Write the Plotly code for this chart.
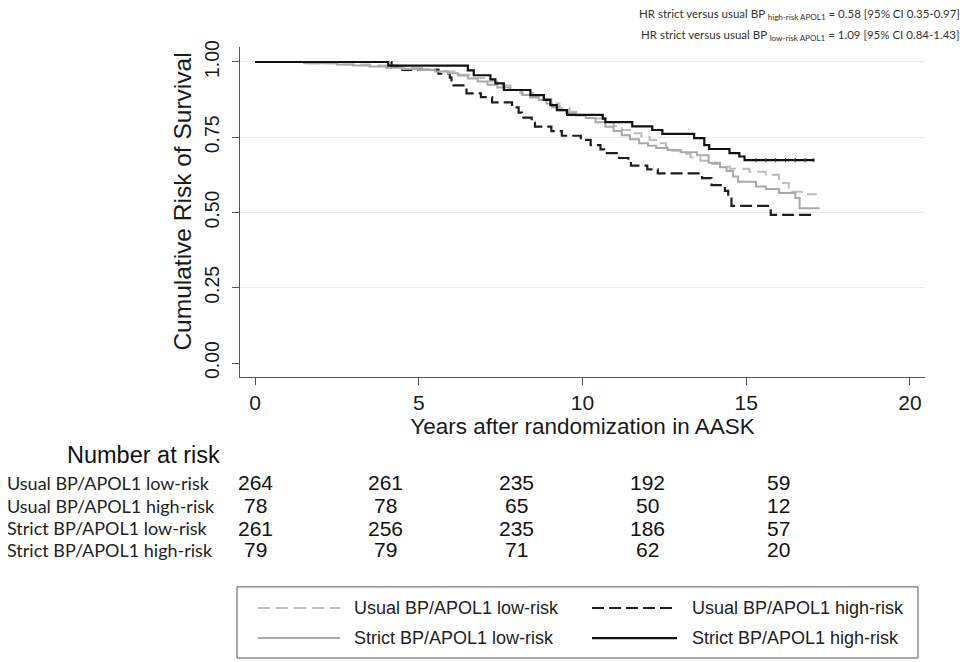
import plotly.graph_objects as go

# ---------------- data ----------------
# Usual BP / APOL1 low-risk (grey dashed)
t_usual_low = [0, 1.5, 2.5, 3.5, 4.2, 4.8, 5.3, 5.8, 6.2, 6.6, 7.0, 7.4, 7.8, 8.1, 8.5, 8.8,
               9.05, 9.3, 9.6, 9.9, 10.3, 10.7, 10.95, 11.2, 11.5, 11.8, 12.05, 12.3, 12.55,
               12.74, 13.0, 13.3, 13.6, 13.9, 14.2, 14.5, 15.1, 15.6, 16.0, 16.3, 16.7, 17.15]
s_usual_low = [1.0, 0.996, 0.992, 0.988, 0.985, 0.980, 0.975, 0.968, 0.958, 0.947, 0.935, 0.922,
               0.907, 0.897, 0.888, 0.878, 0.862, 0.847, 0.835, 0.824, 0.812, 0.800, 0.787,
               0.774, 0.763, 0.752, 0.741, 0.730, 0.718, 0.705, 0.695, 0.683, 0.672, 0.661,
               0.652, 0.645, 0.635, 0.625, 0.598, 0.569, 0.561, 0.561]

# Usual BP / APOL1 high-risk (black dashed)
t_usual_high = [0, 4.17, 4.50, 5.60, 5.95, 6.00, 6.46, 6.90, 7.24, 7.85, 8.05, 8.15, 8.45, 8.55,
                9.05, 9.37, 9.95, 10.25, 10.55, 10.66, 11.12, 11.40, 11.48, 11.98, 12.30,
                13.65, 13.94, 14.35, 14.45, 14.55, 15.75, 17.09]
s_usual_high = [1.0, 0.987, 0.974, 0.961, 0.948, 0.922, 0.896, 0.883, 0.866, 0.849, 0.832, 0.815,
                0.798, 0.785, 0.770, 0.755, 0.741, 0.724, 0.710, 0.697, 0.681, 0.669, 0.656,
                0.643, 0.630, 0.614, 0.591, 0.572, 0.552, 0.522, 0.492, 0.492]

# Strict BP / APOL1 low-risk (grey solid)
t_strict_low = [0, 1.5, 2.5, 3.0, 3.5, 4.0, 4.5, 5.0, 5.5, 5.9, 6.2, 6.5, 6.8, 7.1, 7.4, 7.8,
                8.15, 8.4, 8.67, 8.9, 9.07, 9.3, 9.5, 9.8, 10.1, 10.4, 10.7, 10.95, 11.2, 11.45,
                11.73, 12.0, 12.25, 12.6, 13.0, 13.5, 13.85, 14.2, 14.4, 14.6, 14.75, 15.3,
                15.6, 16.0, 16.5, 16.63, 17.24]
s_strict_low = [1.0, 0.996, 0.992, 0.988, 0.985, 0.981, 0.977, 0.973, 0.968, 0.963, 0.955, 0.945,
                0.935, 0.924, 0.915, 0.907, 0.890, 0.882, 0.874, 0.862, 0.850, 0.840, 0.830,
                0.822, 0.814, 0.800, 0.785, 0.771, 0.757, 0.743, 0.730, 0.722, 0.714, 0.708,
                0.700, 0.690, 0.665, 0.650, 0.638, 0.620, 0.602, 0.586, 0.578, 0.565, 0.548,
                0.514, 0.514]

# Strict BP / APOL1 high-risk (black solid)
t_strict_high = [0, 4.07, 6.50, 6.68, 7.19, 7.34, 7.60, 8.41, 8.82, 9.02, 9.22, 9.53, 10.62,
                 10.70, 11.52, 12.13, 12.44, 13.41, 13.72, 13.87, 14.49, 14.79, 14.95, 17.09]
s_strict_high = [1.0, 0.988, 0.972, 0.956, 0.942, 0.929, 0.907, 0.890, 0.874, 0.857, 0.840,
                 0.824, 0.812, 0.800, 0.786, 0.774, 0.761, 0.747, 0.724, 0.711, 0.697, 0.686,
                 0.674, 0.674]
# censoring marks on the last black segment
t_censor_strict_high = [15.3, 15.6, 15.9, 16.2, 16.5, 16.8, 17.05]

# Number at risk table
risk_times = [0, 4, 8, 12, 16]
risk_labels = ["Usual BP/APOL1 low-risk", "Usual BP/APOL1 high-risk",
               "Strict BP/APOL1 low-risk", "Strict BP/APOL1 high-risk"]
risk_usual_low = [264, 261, 235, 192, 59]
risk_usual_high = [78, 78, 65, 50, 12]
risk_strict_low = [261, 256, 235, 186, 57]
risk_strict_high = [79, 79, 71, 62, 20]

x_ticks = [0, 5, 10, 15, 20]
y_ticks = [0, 0.25, 0.5, 0.75, 1.0]
y_tick_text = ["0.00", "0.25", "0.50", "0.75", "1.00"]

# ---------------- styles ----------------
FONT = "Liberation Sans, Arial, sans-serif"
FONT_C = "Lato, Open Sans, sans-serif"
styles = {
    "usual_low": dict(color="#bdbdbd", width=2, dash="12px,6px"),
    "usual_high": dict(color="#1e1e1e", width=2.2, dash="12px,5px"),
    "strict_low": dict(color="#a9a9a9", width=2),
    "strict_high": dict(color="#111111", width=2.2),
}
series = [
    ("Usual BP/APOL1 low-risk", t_usual_low, s_usual_low, "usual_low"),
    ("Usual BP/APOL1 high-risk", t_usual_high, s_usual_high, "usual_high"),
    ("Strict BP/APOL1 low-risk", t_strict_low, s_strict_low, "strict_low"),
    ("Strict BP/APOL1 high-risk", t_strict_high, s_strict_high, "strict_high"),
]

fig = go.Figure()
for name, t, s, key in series:
    fig.add_trace(go.Scatter(x=t, y=s, mode="lines", name=name, line=dict(shape="hv", **styles[key]),
                             showlegend=False))

fig.add_trace(go.Scatter(x=t_censor_strict_high, y=[s_strict_high[-1]] * len(t_censor_strict_high),
                         mode="markers", showlegend=False, hoverinfo="skip",
                         marker=dict(symbol="line-ns", size=3, line=dict(color="#333", width=1))))

# overlay axis only for gridlines (no grid at 0)
fig.add_trace(go.Scatter(x=[None], y=[None], yaxis="y2", showlegend=False, hoverinfo="skip"))

# the page body has an 8px margin, so the figure is 8px smaller on each side
fig.update_layout(
    width=963, height=654, autosize=False,
    margin=dict(l=232, r=46, t=39, b=285),
    paper_bgcolor="white", plot_bgcolor="white",
    font=dict(family=FONT, color="#1a1a1a"),
    xaxis=dict(range=[-0.458, 20.46], tickvals=x_ticks, ticktext=[str(v) for v in x_ticks],
               showgrid=False, zeroline=False, showline=True, linecolor="#555", linewidth=1,
               ticks="outside", ticklen=7, tickcolor="#555", tickfont=dict(size=21, family=FONT),
               title=dict(text="Years after randomization in AASK", font=dict(size=22.5, family=FONT),
                          standoff=3)),
    yaxis=dict(range=[-0.0465, 1.0498], tickvals=y_ticks, ticktext=y_tick_text, tickangle=-90,
               showgrid=False, zeroline=False, showline=True, linecolor="#555", linewidth=1,
               ticks="outside", ticklen=7, tickcolor="#555", tickfont=dict(size=19.5, family=FONT),
               ticklabelstandoff=5),
    yaxis2=dict(range=[-0.0465, 1.0498], overlaying="y", tickvals=y_ticks[1:], showgrid=True,
                gridcolor="#ececec", gridwidth=1, showticklabels=False, ticks="", zeroline=False,
                showline=False),
)

annotations = []
# y-axis title (placed as in the original, slightly above the plot centre)
annotations.append(dict(xref="paper", yref="paper", x=-0.084, y=0.533, xanchor="center", yanchor="middle",
                        textangle=-90, showarrow=False, text="Cumulative Risk of Survival",
                        font=dict(family=FONT, size=24.5, color="#1a1a1a")))
# HR text
annotations.append(dict(xref="paper", yref="paper", x=1.054, y=1.099, xanchor="right", yanchor="middle",
                        showarrow=False, font=dict(family=FONT_C, size=11.5, color="#333"),
                        text="HR strict versus usual BP <sub>high-risk APOL1</sub> = 0.58 [95% CI 0.35-0.97]"))
annotations.append(dict(xref="paper", yref="paper", x=1.054, y=1.036, xanchor="right", yanchor="middle",
                        showarrow=False, font=dict(family=FONT_C, size=11.5, color="#333"),
                        text="HR strict versus usual BP <sub>low-risk APOL1</sub> = 1.09 [95% CI 0.84-1.43]"))
# Number at risk
annotations.append(dict(xref="paper", yref="paper", x=-0.1409, y=-0.2364, xanchor="center", yanchor="middle",
                        showarrow=False, text="Number at risk", font=dict(family=FONT, size=23.5, color="#111")))
row_y = [-0.3212, -0.3909, -0.4576, -0.5242]
rows = [risk_usual_low, risk_usual_high, risk_strict_low, risk_strict_high]
for lab, yy, vals in zip(risk_labels, row_y, rows):
    annotations.append(dict(xref="paper", yref="paper", x=-0.343, y=yy, xanchor="left", yanchor="middle",
                            showarrow=False, text=lab, font=dict(family=FONT_C, size=18, color="#222")))
    for tx, v in zip(risk_times, vals):
        annotations.append(dict(xref="x", yref="paper", x=tx, y=yy, xanchor="center", yanchor="middle",
                                showarrow=False, text=str(v), font=dict(family=FONT, size=21, color="#111")))

# legend box drawn as in the original (long line samples)
shapes = [dict(type="rect", xref="paper", yref="paper", x0=-0.0044, x1=0.9898, y0=-0.8515, y1=-0.636,
               line=dict(color="#555", width=1), fillcolor="white")]
leg_pos = {
    "usual_low": (0.0263, 0.146, 0.1635, -0.700),
    "usual_high": (0.5139, 0.638, 0.657, -0.700),
    "strict_low": (0.0263, 0.146, 0.1635, -0.791),
    "strict_high": (0.5139, 0.638, 0.657, -0.791),
}
for name, t, s, key in series:
    x0, x1, xt, yy = leg_pos[key]
    shapes.append(dict(type="line", xref="paper", yref="paper", x0=x0, x1=x1, y0=yy, y1=yy,
                       line=styles[key]))
    annotations.append(dict(xref="paper", yref="paper", x=xt, y=yy, xanchor="left", yanchor="middle",
                            showarrow=False, text=name, font=dict(family=FONT, size=18, color="#222")))

fig.update_layout(annotations=annotations, shapes=shapes)
fig.write_html("out.html")
